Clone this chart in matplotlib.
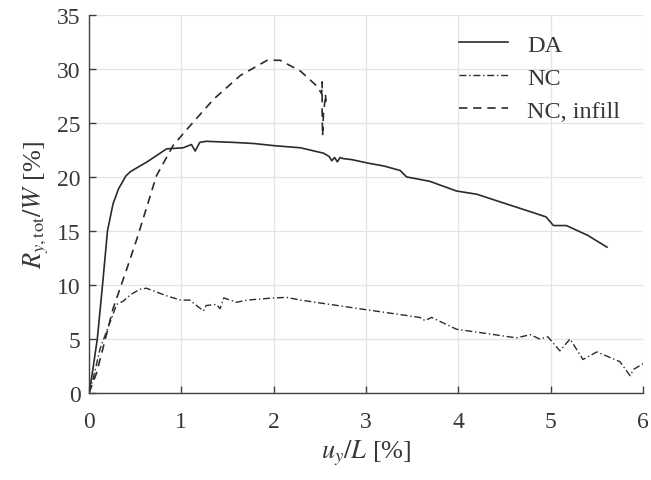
import numpy as np
from matplotlib import pyplot as plt

# data (u_y/L [%], R/W [%])
da_x = [0, 0.03, 0.09, 0.15, 0.2, 0.26, 0.32, 0.4, 0.45, 0.63, 0.84, 1.02, 1.11, 1.15, 1.2, 1.27,
        1.56, 1.78, 2.0, 2.29, 2.54, 2.6, 2.63, 2.66, 2.69, 2.72, 2.75, 2.85, 3.01, 3.2,
        3.37, 3.44, 3.69, 3.98, 4.2, 4.45, 4.81, 4.95, 5.03, 5.17, 5.4, 5.61]
da_y = [0, 1.5, 5.0, 10.3, 15.0, 17.5, 18.9, 20.1, 20.5, 21.4, 22.6, 22.7, 23.0, 22.4, 23.2, 23.3,
        23.2, 23.1, 22.9, 22.7, 22.2, 21.9, 21.5, 21.8, 21.4, 21.8, 21.7, 21.6, 21.3, 21.0,
        20.6, 20.0, 19.6, 18.7, 18.4, 17.7, 16.7, 16.3, 15.5, 15.5, 14.6, 13.5]

nc_x = [0, 0.05, 0.12, 0.23, 0.3, 0.37, 0.45, 0.55, 0.62, 0.84, 0.99, 1.09, 1.24, 1.27,
        1.38, 1.42, 1.46, 1.6, 1.71, 2.0, 2.14, 2.29, 2.61, 3.01, 3.58, 3.64, 3.71, 3.98,
        4.31, 4.63, 4.78, 4.88, 4.97, 5.1, 5.21, 5.35, 5.5, 5.64, 5.75, 5.86, 5.9, 6.0]
nc_y = [0, 1.5, 4.1, 6.6, 8.2, 8.5, 9.1, 9.6, 9.7, 9.0, 8.6, 8.6, 7.6, 8.1,
        8.2, 7.8, 8.8, 8.4, 8.6, 8.8, 8.85, 8.6, 8.2, 7.7, 7.0, 6.7, 7.0, 5.9,
        5.5, 5.1, 5.4, 5.0, 5.2, 3.9, 5.0, 3.1, 3.8, 3.3, 2.9, 1.6, 2.2, 2.7]

inf_x = [0, 0.08, 0.15, 0.26, 0.41, 0.52, 0.73, 0.91, 1.06, 1.35, 1.64, 1.93, 2.07, 2.29,
         2.47, 2.52, 2.525, 2.525, 2.53, 2.54, 2.56, 2.57, 2.56]
inf_y = [0, 1.8, 4.1, 7.8, 11.5, 14.3, 20.1, 22.9, 24.4, 27.2, 29.4, 30.8, 30.8, 29.8,
         28.4, 27.7, 28.8, 26.0, 23.8, 26.0, 27.3, 26.9, 27.6]

plt.rcParams['font.family'] = 'Liberation Serif'
plt.rcParams['mathtext.fontset'] = 'stix'

c = '#2b2b2b'
tc = '#383838'
fig = plt.figure(figsize=(6.51, 4.81), dpi=100)
ax = fig.add_axes([0.1367, 0.1809, 0.851, 0.786])

ax.plot(da_x, da_y, '-', color=c, lw=1.2, label='DA')
ax.plot(nc_x, nc_y, color=c, lw=1.0, dashes=[5, 2, 1, 2], label='NC')
ax.plot(inf_x, inf_y, color=c, lw=1.2, dashes=[5, 3.5], label='NC, infill')

ax.set_xlim(0, 6)
ax.set_ylim(0, 35)
ax.set_xticks(np.arange(0, 7, 1))
ax.set_yticks(np.arange(0, 40, 5))
ax.grid(True, color='#e4e4e4', lw=0.9)
ax.set_axisbelow(True)
for s in ['top', 'right']:
    ax.spines[s].set_visible(False)
for s in ['left', 'bottom']:
    ax.spines[s].set_color('#404040')
    ax.spines[s].set_linewidth(1.0)
ax.tick_params(direction='in', length=5, width=1.0, color='#404040',
               labelsize=17, labelcolor=tc, pad=6)
ax.tick_params(axis='x', pad=13)

ax.set_xlabel(r'$u_y/L$ [%]', fontsize=19, color=tc, labelpad=4)
ax.set_ylabel(r'$R_{y,\mathrm{tot}}/W$ [%]', fontsize=19, color=tc, labelpad=4)

leg = ax.legend(loc='upper right', frameon=False, fontsize=17.5, handlelength=2.0,
                borderaxespad=0.3, labelspacing=0.45, bbox_to_anchor=(0.99, 0.995))
for t in leg.get_texts():
    t.set_color(tc)

fig.savefig('out.png', dpi=100)
